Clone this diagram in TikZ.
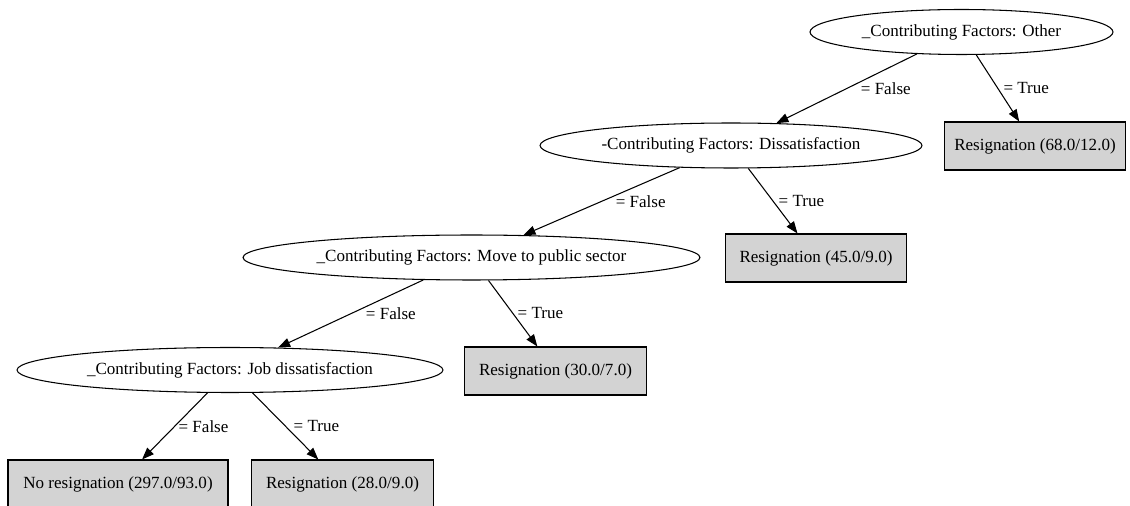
\documentclass[tikz,border=0pt]{standalone}
\usepackage{fontspec}
\setmainfont{Liberation Serif}
\usepackage{tikz}
\usetikzlibrary{arrows.meta,shapes.geometric}

\definecolor{leafgrey}{HTML}{D3D3D3}

\begin{document}
\begin{tikzpicture}[x=0.02cm,y=-0.02cm,
    every node/.style={font=\fontsize{9.7}{12}\selectfont},
    attr/.style={ellipse,draw,line width=0.6pt,inner xsep=0pt,minimum height=0.9cm},
    leaf/.style={rectangle,draw,line width=0.6pt,fill=leafgrey,inner xsep=0.2cm,minimum width=3.63cm,minimum height=0.96cm},
    edge/.style={-{Triangle[length=0.24cm,width=0.18cm]},line width=0.6pt},
    lbl/.style={midway,anchor=west,inner sep=1pt}]
    \useasboundingbox (0,0) rectangle (1130,506);
    % tree nodes
    \node[attr,minimum width=6.06cm] (other) at (961.5,32) {\_Contributing Factors: Other};
    \node[leaf] (res68) at (1035,146) {Resignation (68.0/12.0)};
    \node[attr,minimum width=7.64cm] (dissat) at (731,145.5) {-Contributing Factors: Dissatisfaction};
    \node[leaf] (res45) at (816,258) {Resignation (45.0/9.0)};
    \node[attr,minimum width=9.14cm] (public) at (471.5,257.5) {\_Contributing Factors: Move to public sector};
    \node[leaf] (res30) at (555.5,371) {Resignation (30.0/7.0)};
    \node[attr,minimum width=8.52cm] (jobdis) at (230,370) {\_Contributing Factors: Job dissatisfaction};
    \node[leaf,minimum width=4.4cm] (nores) at (118,484) {No resignation (297.0/93.0)};
    \node[leaf] (res28) at (342.5,484) {Resignation (28.0/9.0)};
    % branches
    \draw[edge] (other) -- node[lbl,xshift=0.24cm] {= False} (dissat);
    \draw[edge] (other) -- node[lbl,xshift=0.07cm] {= True} (res68);
    \draw[edge] (dissat) -- node[lbl,xshift=0.24cm] {= False} (public);
    \draw[edge] (dissat) -- node[lbl,xshift=0.07cm] {= True} (res45);
    \draw[edge] (public) -- node[lbl,xshift=0.26cm] {= False} (jobdis);
    \draw[edge] (public) -- node[lbl,xshift=0.05cm] {= True} (res30);
    \draw[edge] (jobdis) -- node[lbl,xshift=0.03cm] {= False} (nores);
    \draw[edge] (jobdis) -- node[lbl,xshift=0.12cm] {= True} (res28);
\end{tikzpicture}
\end{document}
